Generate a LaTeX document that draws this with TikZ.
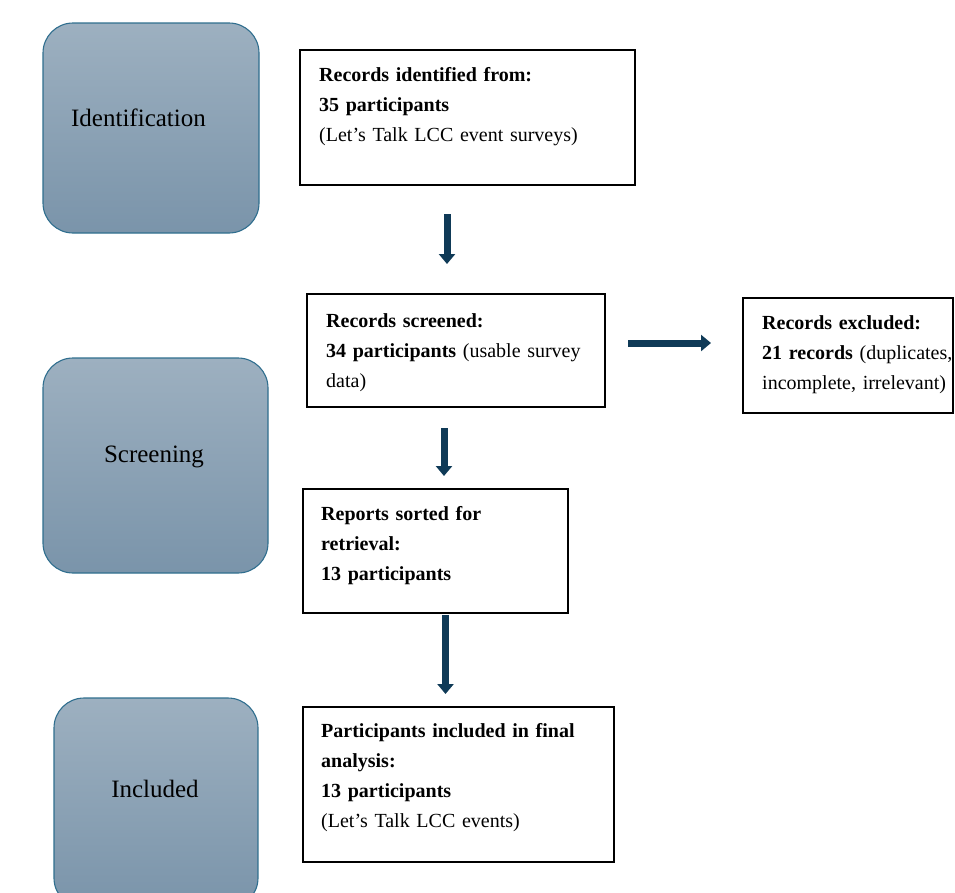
\documentclass[tikz,border=0pt]{standalone}
\usepackage{fontspec}
\setmainfont{Liberation Serif}
\usetikzlibrary{arrows.meta,calc}
\definecolor{phtop}{HTML}{9DB0C0}
\definecolor{phbot}{HTML}{7A94AA}
\definecolor{phedge}{HTML}{2F6E8E}
\definecolor{arrowcol}{HTML}{0F3A57}
\tikzset{
  phase/.style={draw=phedge, line width=1.1pt, rounded corners=30pt, top color=phtop, bottom color=phbot, inner sep=0pt},
  phaselabel/.style={font=\fontsize{25}{30}\selectfont, inner sep=0pt, anchor=base},
  recbox/.style={draw=black, line width=2pt, fill=white, inner sep=0pt},
  rectext/.style={font=\fontsize{20}{30}\selectfont, inner sep=0pt, anchor=base west, align=left},
  flowarrow/.style={draw=arrowcol, line width=7pt, -{Triangle[length=10pt,width=16pt]}}
}
\begin{document}
\begin{tikzpicture}[x=1pt,y=-1pt]
\useasboundingbox (0,0) rectangle (955,892);
\clip (0,0) rectangle (955,892);
% phase boxes
\node[phase, minimum width=216pt, minimum height=210pt] (p1) at (151,128) {};
\node[phase, minimum width=225pt, minimum height=215pt] (p2) at (155.5,465.5) {};
\node[phase, minimum width=204pt, minimum height=210pt] (p3) at (156,803) {};
\node[phaselabel] (l1) at (138.5,126) {Identification};
\node[phaselabel] (l2) at (154,462.5) {Screening};
\node[phaselabel] (l3) at (155,797.5) {Included};
% record boxes
\node[recbox, minimum width=335pt, minimum height=135pt] (b1) at (467.5,117.5) {};
\node[recbox, minimum width=298pt, minimum height=113pt] (b2) at (456,350.5) {};
\node[recbox, minimum width=210pt, minimum height=115pt] (b3) at (848,355.5) {};
\node[recbox, minimum width=265pt, minimum height=124pt] (b4) at (435.5,551) {};
\node[recbox, minimum width=311pt, minimum height=155pt] (b5) at (458.5,784.5) {};
% texts
\node[rectext, text width=310pt] (t1) at ([xshift=20pt,yshift=-32pt]b1.north west)
  {\textbf{Records identified from:}\\\textbf{35 participants}\\(Let’s Talk LCC event surveys)};
\node[rectext, text width=275pt] (t2) at ([xshift=20pt,yshift=-34pt]b2.north west)
  {\textbf{Records screened:}\\\textbf{34 participants} (usable survey\\data)};
\node[rectext, text width=200pt] (t3) at ([xshift=20pt,yshift=-32pt]b3.north west)
  {\textbf{Records excluded:}\\\textbf{21 records} (duplicates,\\incomplete, irrelevant)};
\node[rectext, text width=240pt] (t4) at ([xshift=19pt,yshift=-32pt]b4.north west)
  {\textbf{Reports sorted for}\\\textbf{retrieval:}\\\textbf{13 participants}};
\node[rectext, text width=290pt] (t5) at ([xshift=19pt,yshift=-31pt]b5.north west)
  {\textbf{Participants included in final}\\\textbf{analysis:}\\\textbf{13 participants}\\(Let’s Talk LCC events)};
% arrows
\draw[flowarrow, shorten <=28pt, shorten >=29pt] ([xshift=-20.5pt]b1.south) -- ([xshift=-20.5pt]b1.south |- b2.north);
\draw[flowarrow, shorten <=22pt, shorten >=31pt] ([yshift=7.5pt]b2.east) -- ([yshift=7.5pt]b2.east -| b3.west);
\draw[flowarrow, shorten <=20pt, shorten >=12pt] ([xshift=-12pt]b2.south) -- ([xshift=-12pt]b2.south |- b4.north);
\draw[flowarrow, shorten <=1pt, shorten >=12pt] ([xshift=10pt]b4.south) -- ([xshift=10pt]b4.south |- b5.north);
\end{tikzpicture}
\end{document}
